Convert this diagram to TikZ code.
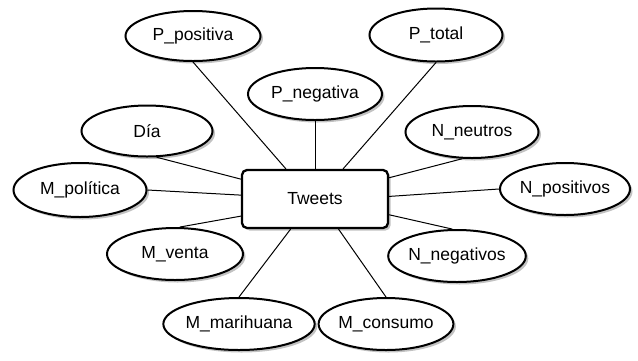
\documentclass[tikz,border=0pt]{standalone}
\usepackage{fontspec}
\setmainfont{Liberation Sans}
\usetikzlibrary{shapes.geometric,shadows}
\begin{document}
\begin{tikzpicture}[x=1pt,y=-1pt,
  shade/.style={drop shadow={shadow xshift=2.5pt,shadow yshift=-2.5pt,fill=black!40,opacity=0.6}},
  attr/.style={ellipse,draw,line width=2pt,fill=white,shade,inner sep=0pt,
    minimum width=133pt,minimum height=52pt,font=\fontsize{17.5}{20}\selectfont},
  entity/.style={rectangle,draw,line width=2.3pt,fill=white,shade,rounded corners=5pt,
    minimum width=146pt,minimum height=58pt,inner sep=0pt,font=\fontsize{17.5}{20}\selectfont},
  link/.style={line width=1pt}]
\useasboundingbox (0,0) rectangle (638,360);

% attribute ellipses
\node[attr,minimum width=135pt,minimum height=50pt] (ppos) at (193,36) {P\_positiva};
\node[attr,minimum height=53pt] (ptot) at (436,35) {P\_total};
\node[attr,minimum width=134pt] (pneg) at (315,94) {P\_negativa};
\node[attr,minimum width=131pt,minimum height=51pt] (dia) at (147,131) {Día};
\node[attr] (nneu) at (472,132) {N\_neutros};
\node[attr,minimum height=54pt] (mpol) at (80,190) {M\_política};
\node[attr,minimum width=130pt] (npos) at (565,189) {N\_positivos};
\node[attr,minimum width=136pt] (mven) at (175,254) {M\_venta};
\node[attr,minimum width=132pt] (nneg) at (457,256) {N\_negativos};
\node[attr,minimum width=128pt] (mmar) at (239,324) {M\_marihuana};
\node[attr] (mcon) at (386,324) {M\_consumo};

% the entity box
\node[entity] (tw) at (315,199) {Tweets};

% connectors from each attribute to the entity
\draw[link] (ppos.south) -- (tw.134);
\draw[link] (pneg.south) -- (tw.north);
\draw[link] (ptot.south) -- (tw.47);
\draw[link] (dia.-70) -- (tw.165);
\draw[link] (mpol.east) -- (tw.177);
\draw[link] (mven.80) -- (tw.193);
\draw[link] (mmar.north) -- (tw.231.6);
\draw[link] (mcon.north) -- (tw.308.4);
\draw[link] (nneu.-110) -- (tw.16);
\draw[link] (npos.west) -- (tw.2.4);
\draw[link] (nneg.100) -- (tw.348);
\end{tikzpicture}
\end{document}
